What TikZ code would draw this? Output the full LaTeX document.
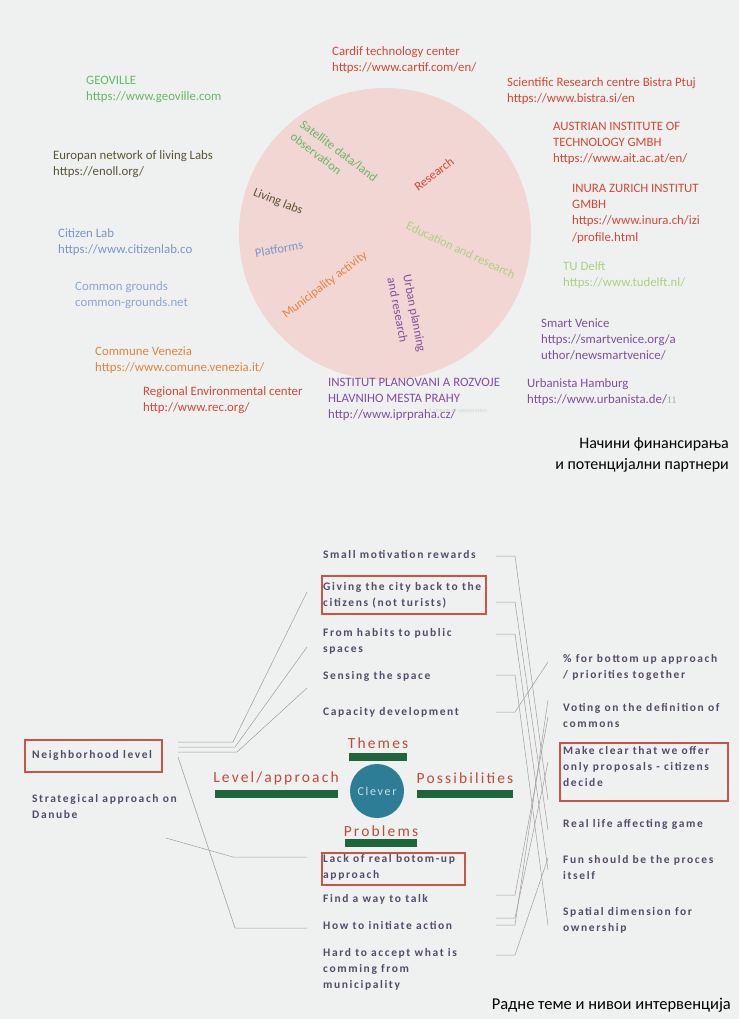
\documentclass[tikz,border=0pt]{standalone}
\usepackage{fontspec}
\setmainfont{Carlito}
\newfontfamily\spacedfont[LetterSpace=14]{Carlito}
\newfontfamily\numfont{Liberation Serif}
\usetikzlibrary{positioning}
\definecolor{bgcol}{RGB}{239, 241, 241}
\definecolor{discol}{RGB}{242, 214, 212}
\definecolor{redtxt}{RGB}{214, 70, 50}
\definecolor{greentxt}{RGB}{100, 185, 100}
\definecolor{olivetxt}{RGB}{88, 86, 48}
\definecolor{bluetxt}{RGB}{120, 150, 200}
\definecolor{paleblue}{RGB}{140, 165, 210}
\definecolor{orangetxt}{RGB}{230, 130, 60}
\definecolor{lightgreen}{RGB}{172, 208, 128}
\definecolor{purpletxt}{RGB}{128, 78, 160}
\definecolor{itemcol}{RGB}{85, 75, 105}
\definecolor{headcol}{RGB}{190, 75, 55}
\definecolor{barcol}{RGB}{30, 100, 60}
\definecolor{clevercol}{RGB}{45, 125, 150}
\definecolor{boxcol}{RGB}{200, 85, 70}
\definecolor{linkcol}{RGB}{165, 155, 155}

\begin{document}
\begin{tikzpicture}[x=1pt, y=-1pt,
  partner/.style={anchor=north west, align=left, inner sep=0pt, font=\fontsize{12.8}{16.2}\selectfont},
  field/.style={inner sep=0pt, align=left, font=\fontsize{12.5}{16}\selectfont},
  item/.style={anchor=north west, align=left, inner sep=0pt, text=itemcol, font=\spacedfont\bfseries\fontsize{11.5}{16.3}\selectfont},
  head/.style={inner sep=0pt, text=headcol, font=\spacedfont\fontsize{15.5}{17}\selectfont},
  bar/.style={fill=barcol},
  redbox/.style={draw=boxcol, line width=1.2pt},
  link/.style={draw=linkcol, line width=0.5pt}]
\useasboundingbox[fill=bgcol] (0,0) rectangle (739,1019);

% partners
\fill[discol] (385,234) circle (146);
\node[field, text=greentxt, rotate=-37] (sat) at (334,157) {Satellite data/land\\observation};
\node[field, text=olivetxt, rotate=-22] (liv) at (278,202) {Living labs};
\node[field, text=redtxt, rotate=37] (res) at (434,174) {Research};
\node[field, text=lightgreen, rotate=-25] (edu) at (461,250) {Education and research};
\node[field, text=bluetxt, rotate=10] (plat) at (279,249) {Platforms};
\node[field, text=orangetxt, rotate=37] (mun) at (325,285) {Municipality activity};
\node[field, text=purpletxt, rotate=-79] (urb) at (407,315) {Urban planning\\and research};

\node[partner, text=redtxt] (cartif) at (332,46) {Cardif technology center\\https://www.cartif.com/en/};
\node[partner, text=greentxt] (geo) at (86,76) {GEOVILLE\\https://www.geoville.com};
\node[partner, text=redtxt] (bistra) at (507,77) {Scientific Research centre Bistra Ptuj\\https://www.bistra.si/en};
\node[partner, text=redtxt] (ait) at (553,122) {AUSTRIAN INSTITUTE OF\\TECHNOLOGY GMBH\\https://www.ait.ac.at/en/};
\node[partner, text=olivetxt] (enoll) at (53,150) {Europan network of living Labs\\https://enoll.org/};
\node[partner, text=redtxt] (inura) at (572,184) {INURA ZURICH INSTITUT\\GMBH\\https://www.inura.ch/izi\\/profile.html};
\node[partner, text=bluetxt] (citlab) at (58,228) {Citizen Lab\\https://www.citizenlab.co};
\node[partner, text=lightgreen] (delft) at (563,261) {TU Delft\\https://www.tudelft.nl/};
\node[partner, text=paleblue] (common) at (75,281) {Common grounds\\common-grounds.net};
\node[partner, text=purpletxt] (svenice) at (541,318) {Smart Venice\\https://smartvenice.org/a\\uthor/newsmartvenice/};
\node[partner, text=orangetxt] (comune) at (95,346) {Commune Venezia\\https://www.comune.venezia.it/};
\node[partner, text=redtxt] (rec) at (143,386) {Regional Environmental center\\http://www.rec.org/};
\node[partner, text=purpletxt] (ipr) at (328,378) {INSTITUT PLANOVANI A ROZVOJE\\HLAVNIHO MESTA PRAHY\\http://www.iprpraha.cz/};
\node[partner, text=purpletxt] (urbhh) at (527,378) {Urbanista Hamburg\\https://www.urbanista.de/{\numfont\color{gray!70}\fontsize{10}{16}\selectfont 11}};
\node[inner sep=0pt, text=gray!35, font=\fontsize{6}{7}\selectfont] (stream) at (458,411) {A stream of cooperation};

\node[anchor=north east, align=right, inner sep=0pt, font=\fontsize{16}{21}\selectfont] (title1) at (729,437) {Начини финансирања\\и потенцијални партнери};

% clever
\node[circle, fill=clevercol, minimum size=54pt, inner sep=0pt, text=white!75!clevercol, font=\spacedfont\fontsize{12}{14}\selectfont] (clever) at (377,791) {Clever};
\node[head] (themes) at (378,743) {Themes};
\fill[bar] (349,753) rectangle (407,761);
\node[head] (level) at (276,778) {Level/approach};
\fill[bar] (215,790) rectangle (338,798);
\node[head] (poss) at (465,778) {Possibilities};
\fill[bar] (417,790) rectangle (513,798);
\node[head] (probl) at (381,831) {Problems};
\fill[bar] (345,839) rectangle (417,847);

% themes
\node[item] (smr) at (323,550) {Small motivation rewards};
\node[item] (give) at (323,582) {Giving the city back to the\\citizens (not turists)};
\node[item] (habits) at (323,628) {From habits to public\\spaces};
\node[item] (sense) at (323,671) {Sensing the space};
\node[item] (capdev) at (323,707) {Capacity development};
\draw[redbox] (322,576) rectangle (486,614);

% problems
\node[item] (lack) at (323,854) {Lack of real botom-up\\approach};
\node[item] (talk) at (323,894) {Find a way to talk};
\node[item] (init) at (323,921) {How to initiate action};
\node[item] (hard) at (323,948) {Hard to accept what is\\comming from\\municipality};
\draw[redbox] (322,853) rectangle (465,885);

% possibilities
\node[item] (pct) at (563,654) {\% for bottom up approach\\/ priorities together};
\node[item] (vote) at (563,703) {Voting on the definition of\\commons};
\node[item] (make) at (563,746) {Make clear that we offer\\only proposals - citizens\\decide};
\node[item] (real) at (563,819) {Real life affecting game};
\node[item] (fun) at (563,855) {Fun should be the proces\\itself};
\node[item] (spat) at (563,907) {Spatial dimension for\\ownership};
\draw[redbox] (560,743) rectangle (728,801);

% levels
\node[item] (neigh) at (32,750) {Neighborhood level};
\draw[redbox] (25,740) rectangle (162,772);
\node[item] (strat) at (32,794) {Strategical approach on\\Danube};

% links
\coordinate (nA) at (178,742);
\coordinate (nB) at (178,747);
\coordinate (nC) at (178,752);
\coordinate (nD) at (178,757);
\coordinate (sA) at (166,838);
\coordinate (giveL) at (307,592);
\coordinate (habitsL) at (307,647);
\coordinate (senseL) at (307,688);
\coordinate (lackL) at (307,857);
\coordinate (initL) at (307,928);
\draw[link] (nA) -- ++(55,0) -- (giveL);
\draw[link] (nB) -- ++(57,0) -- (habitsL);
\draw[link] (nC) -- ++(59,0) -- (senseL);
\draw[link] (nD) -- (235,928) -- (initL);
\draw[link] (sA) -- (233,857) -- (lackL);

\foreach \n/\y in {t1/556,t2/602,t3/634,t4/675,t5/712,p1/895,p2/918,p3/925,p4/955}
  \coordinate (\n) at (496,\y);
\foreach \n/\y in {q1/662,q2/700,q3/717,q4/762,q5/800,q6/830,q7/858,q8/870,q9/925}
  \coordinate (\n) at (548,\y);
\foreach \a/\b in {t1/q5,t2/q6,t3/q8,t4/q9,t5/q1,p1/q3,p2/q4,p3/q2,p4/q7}
  \draw[link] (\a) -- ++(19,0) -- (\b);

\node[anchor=east, inner sep=0pt, font=\fontsize{16.5}{20}\selectfont] (title2) at (731,1005) {Радне теме и нивои интервенција};
\end{tikzpicture}
\end{document}
